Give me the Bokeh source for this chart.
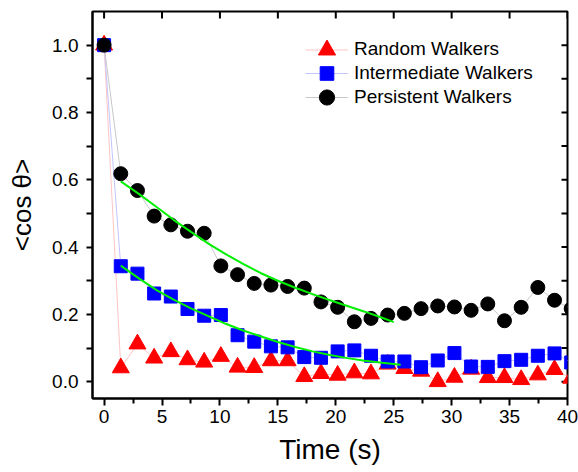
from bokeh.plotting import figure
from bokeh.models import Range1d, FixedTicker, Legend, LegendItem, PrintfTickFormatter
from bokeh.embed import file_html
from bokeh.resources import INLINE
import math

# ---- data ----
time_s = [0, 1.44, 2.88, 4.32, 5.76, 7.2, 8.64, 10.08, 11.52, 12.96, 14.4, 15.84, 17.28,
          18.72, 20.16, 21.6, 23.04, 24.48, 25.92, 27.36, 28.8, 30.24, 31.68, 33.12, 34.56,
          36.0, 37.44, 38.88, 40.32]

random_walkers = [1.0, 0.041, 0.112, 0.070, 0.089, 0.065, 0.058, 0.075, 0.043, 0.042, 0.062,
                  0.062, 0.015, 0.024, 0.019, 0.026, 0.023, 0.052, 0.039, 0.031, 0.000, 0.013,
                  0.037, 0.012, 0.012, 0.006, 0.020, 0.036, 0.010]

intermediate_walkers = [1.0, 0.343, 0.321, 0.262, 0.253, 0.216, 0.196, 0.198, 0.138, 0.119,
                        0.105, 0.102, 0.073, 0.071, 0.090, 0.093, 0.077, 0.060, 0.060, 0.043,
                        0.063, 0.085, 0.045, 0.044, 0.061, 0.065, 0.077, 0.084, 0.057]

persistent_walkers = [1.0, 0.618, 0.568, 0.492, 0.466, 0.447, 0.441, 0.344, 0.318, 0.292,
                      0.287, 0.283, 0.278, 0.237, 0.221, 0.178, 0.188, 0.198, 0.203, 0.217,
                      0.225, 0.222, 0.212, 0.231, 0.181, 0.221, 0.280, 0.242, 0.217]

fit_persistent_t = [1.44, 3, 4.5, 6, 7.5, 9, 10.5, 12, 13.5, 15, 16.5, 18, 19.5, 21, 22.5, 24, 25]
fit_persistent_y = [0.595, 0.558, 0.520, 0.481, 0.445, 0.410, 0.379, 0.350, 0.323, 0.300,
                    0.279, 0.260, 0.242, 0.225, 0.208, 0.190, 0.177]

fit_intermediate_t = [1.44, 3, 4.5, 6, 7.5, 9, 10.5, 12, 13.5, 15, 16.5, 18, 19.5, 21, 22.5, 24, 25.6]
fit_intermediate_y = [0.345, 0.307, 0.273, 0.244, 0.218, 0.195, 0.172, 0.152, 0.135, 0.118,
                      0.103, 0.090, 0.079, 0.070, 0.062, 0.056, 0.050]

x_ticks = [0, 5, 10, 15, 20, 25, 30, 35, 40]
x_minor = [2.5, 7.5, 12.5, 17.5, 22.5, 27.5, 32.5, 37.5]
y_ticks = [0.0, 0.2, 0.4, 0.6, 0.8, 1.0]
y_minor = [0.1, 0.3, 0.5, 0.7, 0.9]

series_labels = ["Random Walkers", "Intermediate Walkers", "Persistent Walkers"]

FONT = "Liberation Sans"
X_MIN, X_MAX = -1, 40
Y_MIN, Y_MAX = -0.05, 1.1

p = figure(width=578, height=472, output_backend="svg", toolbar_location=None,
           x_range=Range1d(X_MIN, X_MAX), y_range=Range1d(Y_MIN, Y_MAX),
           min_border_left=92, min_border_right=11, min_border_top=11, min_border_bottom=74)
p.outline_line_color = "black"
p.outline_line_width = 2
p.xgrid.visible = False
p.ygrid.visible = False
p.background_fill_color = "white"
p.border_fill_color = "white"

# bottom axis
xa = p.below[0]
xa.ticker = FixedTicker(ticks=x_ticks, minor_ticks=x_minor)
xa.axis_line_width = 2
xa.major_tick_line_width = 2
xa.minor_tick_line_width = 2
xa.major_tick_in = 0
xa.major_tick_out = 7
xa.minor_tick_in = 0
xa.minor_tick_out = 5
xa.major_label_text_font = FONT
xa.major_label_text_font_size = "19px"
xa.major_label_text_color = "black"
xa.major_label_standoff = 4
xa.axis_label = "Time (s)"
xa.axis_label_text_font = FONT
xa.axis_label_text_font_size = "28px"
xa.axis_label_text_font_style = "normal"
xa.axis_label_text_color = "black"
xa.axis_label_standoff = 8

# left axis
ya = p.left[0]
ya.ticker = FixedTicker(ticks=y_ticks, minor_ticks=y_minor)
ya.formatter = PrintfTickFormatter(format="%.1f")
ya.axis_line_width = 2
ya.major_tick_line_width = 2
ya.minor_tick_line_width = 2
ya.major_tick_in = 0
ya.major_tick_out = 6
ya.minor_tick_in = 0
ya.minor_tick_out = 6
ya.major_label_text_font = FONT
ya.major_label_text_font_size = "19px"
ya.major_label_text_color = "black"
ya.major_label_standoff = 8
ya.axis_label = "<cos θ>"
ya.axis_label_text_font = FONT
ya.axis_label_text_font_size = "26px"
ya.axis_label_text_font_style = "normal"
ya.axis_label_text_color = "black"
ya.axis_label_standoff = 12

# mirror ticks on the right and top edges (inner half of a dash, clipped by the frame)
right_ticks = sorted(y_ticks + y_minor)
p.scatter([X_MAX] * len(right_ticks), right_ticks, marker="dash", size=12,
          line_color="black", line_width=2)
p.scatter(x_ticks, [Y_MAX] * len(x_ticks), marker="dash", size=14, angle=math.pi / 2,
          line_color="black", line_width=2)

# series
r_line = p.line(time_s, random_walkers, line_color="#ffc4c4", line_width=1)
r_pts = p.scatter(time_s, random_walkers, marker="triangle", size=17,
                  fill_color="#ff0000", line_color="#ff0000")
i_line = p.line(time_s, intermediate_walkers, line_color="#c4c4ff", line_width=1)
i_pts = p.scatter(time_s, intermediate_walkers, marker="square", size=13,
                  fill_color="#0000ff", line_color="#0000ff")
k_line = p.line(time_s, persistent_walkers, line_color="#c8c8c8", line_width=1)
k_pts = p.scatter(time_s, persistent_walkers, marker="circle", size=14,
                  fill_color="black", line_color="black")

p.line(fit_persistent_t, fit_persistent_y, line_color="#00f000", line_width=2)
p.line(fit_intermediate_t, fit_intermediate_y, line_color="#00f000", line_width=2)

# legend: one single-item legend per series, rows 24 px apart
legend_renderers = [[r_line, r_pts], [i_line, i_pts], [k_line, k_pts]]
legend_glyph_h = [45, 34, 38]
for k, (lab, rends, gh) in enumerate(zip(series_labels, legend_renderers, legend_glyph_h)):
    center = 349 - 24 * k
    lg = Legend(items=[LegendItem(label=lab, renderers=rends)],
                location=(213, center - gh / 2), orientation="vertical",
                glyph_width=43, glyph_height=gh, label_height=20, spacing=0,
                padding=0, margin=0, label_standoff=6,
                label_text_font=FONT, label_text_font_size="19px", label_text_color="black",
                border_line_alpha=0, background_fill_alpha=0)
    p.add_layout(lg, "center")

open("out.html", "w").write(file_html(p, INLINE))
